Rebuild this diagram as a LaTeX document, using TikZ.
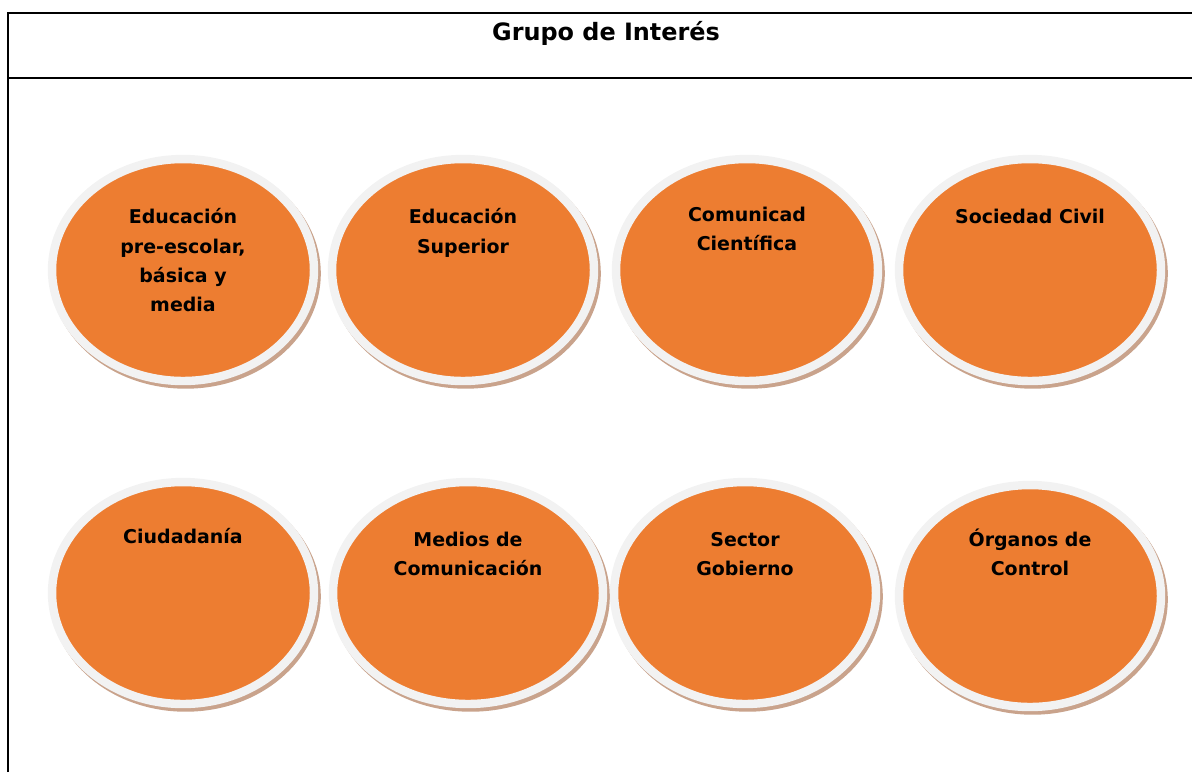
\documentclass[tikz,border=0pt]{standalone}
\usepackage{fontspec}
\setmainfont{DejaVu Sans}
\usepackage{xcolor}
\usetikzlibrary{shapes.geometric,positioning}
\definecolor{grporange}{HTML}{ED7D31}
\definecolor{ringgray}{HTML}{F2F2F2}
\definecolor{ringshadow}{HTML}{C9A38C}

\begin{document}
\begin{tikzpicture}[x=0.02cm, y=-0.02cm,
    grupo/.style={ellipse, fill=grporange, draw=ringgray, line width=4.8pt, minimum width=5.24cm, minimum height=4.44cm, inner sep=0pt,
        preaction={draw=ringshadow, line width=4.8pt, transform canvas={shift={(1.5pt,-2pt)}}}},
    etiqueta/.style={anchor=north, align=center, inner sep=0pt, font=\fontsize{10.8}{16.6}\selectfont\bfseries, execute at begin node=\strut}]
    \useasboundingbox (0,0) rectangle (1192,772);

    % frame and header
    \draw[line width=1.1pt] (8,772) -- (8,13) -- (1192,13);
    \draw[line width=1.1pt] (8,78) -- (1192,78);
    \node[font=\fontsize{13.6}{16}\selectfont\bfseries] (title) at (606,33) {Grupo de Interés};

    % first row
    \node[grupo] (edu) at (183,270) {};
    \node[grupo] (sup) at (463,270) {};
    \node[grupo] (cien) at (747,270) {};
    \node[grupo] (civil) at (1030,270) {};

    \node[etiqueta] (edu-t) at ([yshift=-1.07cm]edu.north) {Educación\\pre-escolar,\\básica y\\media};
    \node[etiqueta] (sup-t) at ([yshift=-1.07cm]sup.north) {Educación\\Superior};
    \node[etiqueta] (cien-t) at ([yshift=-1.03cm]cien.north) {Comunicad\\Científica};
    \node[etiqueta] (civil-t) at ([yshift=-0.95cm]civil.north) {Sociedad Civil};

    % second row
    \node[grupo] (ciu) at (183,593) {};
    \node[grupo, minimum width=5.4cm] (medios) at (468,593) {};
    \node[grupo] (gob) at (745,593) {};
    \node[grupo] (control) at (1030,596) {};

    \node[etiqueta] (ciu-t) at ([yshift=-0.89cm]ciu.north) {Ciudadanía};
    \node[etiqueta] (medios-t) at ([yshift=-1.07cm]medios.north) {Medios de\\Comunicación};
    \node[etiqueta] (gob-t) at ([yshift=-1.09cm]gob.north) {Sector\\Gobierno};
    \node[etiqueta] (control-t) at ([yshift=-0.95cm]control.north) {Órganos de\\Control};
\end{tikzpicture}
\end{document}
